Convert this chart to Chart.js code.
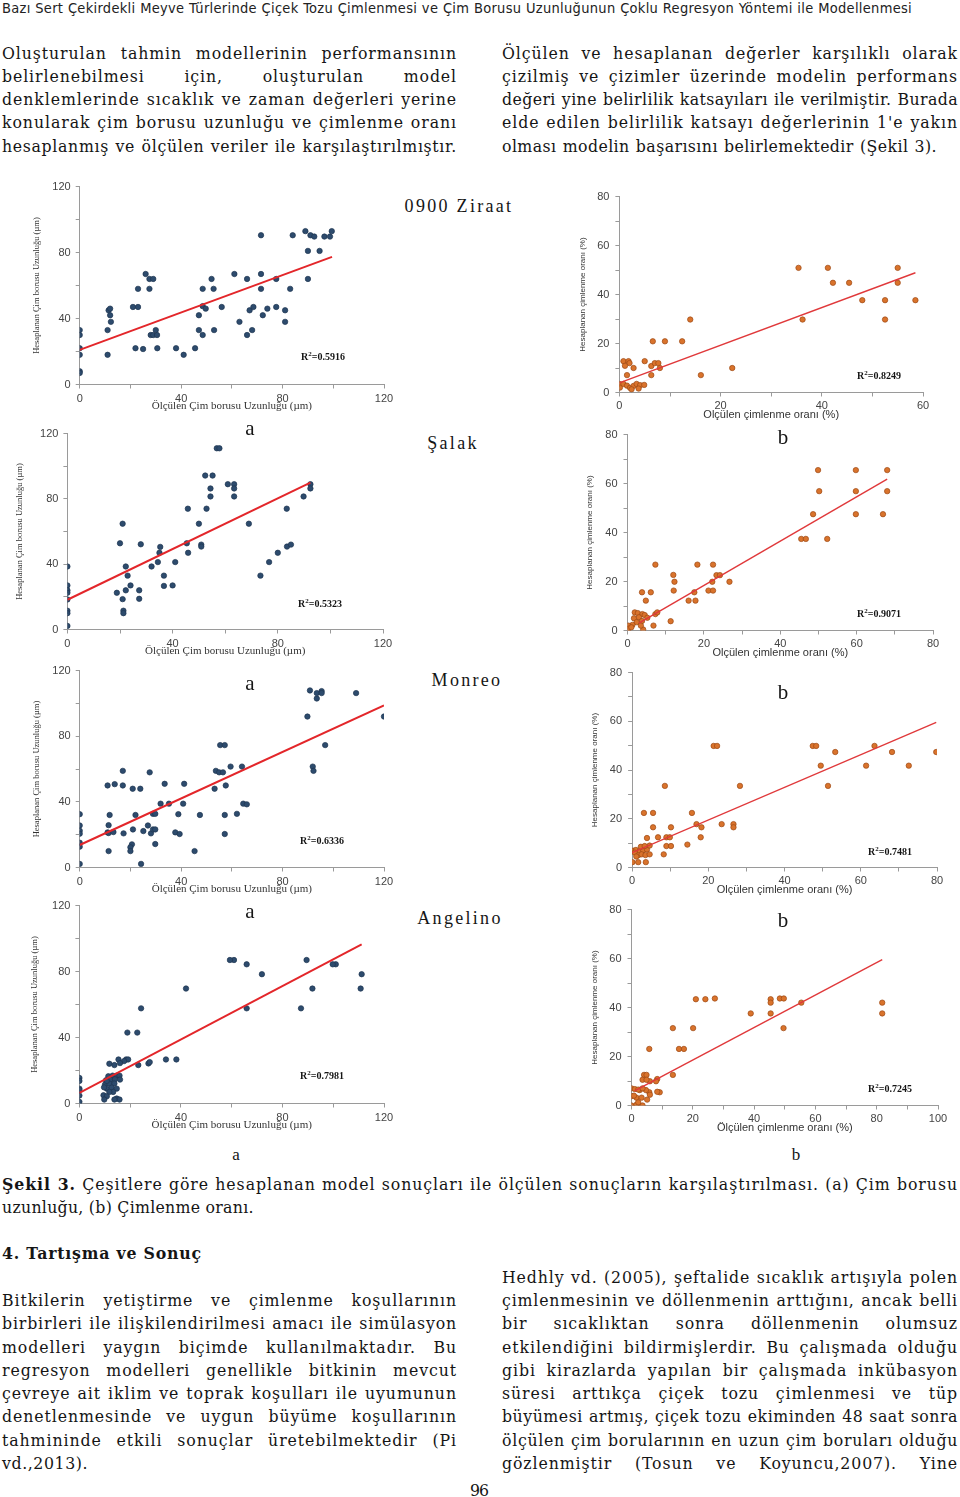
<!DOCTYPE html>
<html lang="tr">
<head>
<meta charset="utf-8">
<title>Şekil 3 - Ölçülen ve hesaplanan değerler</title>
<script src="https://cdn.jsdelivr.net/npm/chart.js@4.4.1/dist/chart.umd.min.js"></script>
<style>
  html, body { margin: 0; padding: 0; background: #fff; }
  #page { position: relative; width: 960px; height: 1497px; overflow: hidden;
          font-family: 'Liberation Serif', serif; color: #151515; }
  #page canvas { position: absolute; }
  .ln { position: absolute; white-space: nowrap; font-family: 'DejaVu Serif Condensed', 'DejaVu Serif', serif;
        font-stretch: condensed; font-size: 17.5px; line-height: 23px; height: 23px;
        letter-spacing: 1px; overflow: visible; }
  .ln.just { text-align: justify; text-align-last: justify; }
  .hdr { font-family: 'DejaVu Sans Condensed', 'DejaVu Sans', sans-serif; font-size: 14.5px; letter-spacing: 0.6px; color: #222; }
  .sp { position: absolute; font-family: 'Liberation Serif', serif; font-size: 18px; letter-spacing: 2.3px;
        transform: translate(-50%, -50%); white-space: nowrap; z-index: 2; }
  .ab { position: absolute; font-family: 'Liberation Serif', serif; font-size: 21px;
        transform: translate(-50%, -50%); z-index: 2; }
  .ab.small { font-size: 17px; }
  .r2 { position: absolute; font: bold 10px 'Liberation Serif', serif; transform: translateY(-50%);
        white-space: nowrap; z-index: 2; }
  .r2 sup { font-size: 7px; vertical-align: 4px; line-height: 0; }
</style>
</head>
<body>
<div id="page"></div>
<script>
// ========== DATA ==========
// [ölçülen, hesaplanan] pairs for every panel

// 0900 Ziraat - çim borusu uzunluğu (µm)
const ziraatCimBorusu = [
  [0,33],[0,30],[0,22],[0,18],[0,8],[0,7],[11,18],[11,33],[11.4,45],[12,46],[12,42],[12.3,38],
  [21,47],[23,47],[23,58],[22,22],[25,21.5],[26,67],[27.5,64],[29,64],[27.5,58],[28,30],[29,30],
  [30,33],[30.5,30],[30.6,22],[38,22],[41,18],[45.5,22],[47,33],[47,42],[48.5,58],[48.5,47.5],
  [49.7,46],[48.5,30],[52,64],[52.8,58],[53,33],[56,47],[61,67],[63,38],[66,64],[66,30],[67,45],
  [68,33],[68.5,47],[71.5,90.5],[71.5,67],[71.5,58],[72.2,42],[74,46],[77.5,64],[77.5,47],[81,45],
  [81,38],[83,58],[84,90.5],[89,93],[90,81],[90,64],[91,90.5],[92.5,89.7],[94.6,81],[96.5,89.7],
  [98.7,89.7],[99.4,93]
];
const ziraatCimBorusuFitX = [0, 99.5];
const ziraatCimBorusuFitY = [21, 77.4];

// 0900 Ziraat - çimlenme oranı (%)
const ziraatCimlenme = [
  [35.4,50.9],[41.2,50.9],[55,50.9],[42.2,44.8],[45.4,44.8],[55,44.8],[48,37.7],[52.5,37.7],
  [58.5,37.7],[52.5,29.8],[36.2,29.8],[14,29.8],[6.6,20.9],[9,20.9],[12.4,20.9],[0.8,12.8],
  [1.8,12.8],[2,12],[1.1,10.9],[2.8,10],[5,12.8],[6.3,10.8],[7,12],[7.7,12],[8,10],[22.3,10],
  [16.1,7.1],[6.3,7.1],[1.5,7.1],[0,3.5],[0.1,2],[0.8,3.5],[1.5,2.8],[2.1,1.9],[2.8,2.7],
  [3.4,3.5],[4.1,3],[3.8,1.6],[4.9,3.1],[2.4,1.3]
];
const ziraatCimlenmeFitX = [0, 58.5];
const ziraatCimlenmeFitY = [3.9, 48.9];

// Şalak - çim borusu uzunluğu
const salakCimBorusu = [
  [0,38.6],[0,27],[0,24],[0,22.5],[0,18.4],[0,11.5],[0,10],[0,2.2],[18.8,22.5],[21,64.8],
  [20,52.8],[21,18.6],[21.3,11.5],[21.3,10],[22.2,38.6],[22.2,24],[22.9,33],[24,27],[27.9,52.2],
  [27.3,24],[27.3,18.8],[32,38.6],[34.4,41.3],[35.3,50.6],[35,47],[36.7,33],[36.7,26.7],[40,27],
  [41,41.3],[45.8,74],[45.4,52.8],[45.9,47],[50,64.8],[50.9,52],[50.9,50.8],[52.4,94.3],[52.9,74],
  [54.4,86.4],[54.4,81.5],[55.2,94.3],[56.8,111],[57.8,111],[61,89],[63.4,89],[63.4,86.4],
  [63.4,81.5],[69,64.8],[73.4,33],[76.7,41.3],[80,47],[83.4,74],[83.5,50.8],[85,52],[89.8,81.5],
  [92.4,89],[92.4,86.4]
];
const salakCimBorusuFitX = [0, 92.4];
const salakCimBorusuFitY = [18.2, 90];

// Şalak - çimlenme oranı
const salakCimlenme = [
  [49.9,65.5],[59.8,65.5],[68,65.5],[50.2,56.9],[59.8,56.9],[68,56.9],[48.6,47.5],[59.8,47.5],
  [66.9,47.5],[45.5,37.4],[46.7,37.4],[52.3,37.4],[7.3,26.9],[18.3,26.9],[22.4,26.9],[12,22.7],
  [23.3,22.6],[24.2,22.6],[12.3,19.9],[22.2,19.9],[26.7,19.9],[12.1,16.3],[21.2,16.3],[22.4,16.3],
  [17.5,15.6],[3.8,15.6],[6.1,15.6],[16,12.2],[17.8,12.2],[4.8,12.2],[11.3,3.8],[6.8,2],[7.3,6.7],
  [7.8,7.4],[1.9,7.4],[2.7,7.1],[3.9,6.7],[4.5,6.3],[1.7,5],[3,5.4],[5.2,5.2],[3.8,3.9],[2.4,3.4],
  [1.3,2.3],[0.2,2],[0.2,0.7],[4.1,0.4],[1,1.3],[3.5,2]
];
const salakCimlenmeFitX = [3, 68];
const salakCimlenmeFitY = [3, 61.8];

// Monreo - çim borusu uzunluğu
const monreoCimBorusu = [
  [0,32.5],[0,25.6],[0,22.4],[0,20.6],[0,15.1],[0,12.7],[0,2.2],[11,50],[11,21.4],[11.4,21],
  [11.4,25.8],[11.8,32],[11.4,10],[13.8,50.8],[13.3,21.6],[17,58.9],[17,50],[17.3,20.8],[20.9,48],
  [21,23.2],[20.6,14.1],[20,12.3],[20,10],[22,32],[23.9,48],[25.1,22.2],[24.2,2.2],[27.6,58],
  [26.9,25.6],[28.1,20.8],[28.9,32.7],[29.8,32.7],[28.9,23.2],[29.8,23.2],[29.8,14.3],[31.9,38.9],
  [33.5,51],[35.2,38.9],[37.7,21.4],[38.9,32.5],[40.8,38.9],[39.4,20.4],[41.2,51],[45.3,10],
  [47.4,32],[53.2,48],[53.7,58.9],[55,58],[56.5,58],[55.4,74.6],[57.6,50],[57.2,74.6],[57.2,32],
  [57.2,20.4],[59.5,61.5],[62,32.7],[64,61.5],[64.5,38.9],[65.9,38.5],[89.8,92],[90.8,107.9],
  [91.9,61.5],[92.2,58.9],[93.5,103],[93.5,106.3],[95.4,107.5],[95.4,106.3],[96.8,74.6],
  [109,106.3],[120,92]
];
const monreoCimBorusuFitX = [0, 120];
const monreoCimBorusuFitY = [13.7, 98.8];

// Monreo - çimlenme oranı
const monreoCimlenme = [
  [21.4,49.9],[22.3,49.9],[47.4,49.9],[48.3,49.9],[63.6,49.9],[53.3,47.4],[68.2,47.4],[79.8,47.4],
  [49.5,41.8],[61.4,41.8],[72.6,41.8],[51.4,33.5],[28.3,33.5],[8.6,33.5],[3.1,22.4],[5.5,22.4],
  [15.7,22.4],[16.9,17.8],[23.5,17.8],[26.6,17.8],[26.6,16.5],[18.2,16.5],[5.5,16.5],[10.2,16.5],
  [18,12.4],[3.9,12.1],[6.8,12.4],[9,12.4],[9.9,12.4],[9,8.8],[10.2,8.8],[14.5,9.4],[8.3,5.4],
  [0.3,6.9],[1,7.2],[2,6.7],[2.9,7.1],[3.9,7.4],[4.6,9],[2.3,8.5],[3.3,8.8],[0.7,6.1],[1.6,5],
  [2.5,5.4],[3.5,5.1],[4.6,5.4],[0.1,2.2],[1.6,2.2],[3.6,2.2],[1.1,4.5]
];
const monreoCimlenmeFitX = [0, 79.8];
const monreoCimlenmeFitY = [6.1, 59.6];

// Angelino - çim borusu uzunluğu
const angelinoCimBorusu = [
  [0,15.5],[0,13.7],[0,9],[0,8.2],[0,4.8],[0,1],[60.9,87],[59.3,87],[65.9,84.4],[71.9,78.4],
  [89.5,87],[101,84.4],[99.8,84.4],[111.2,78.4],[42,69.7],[91.8,69.7],[110.8,69.7],[24.3,57.7],
  [65.9,57.7],[87.3,57.7],[18.9,43],[22.8,43],[18.4,26.7],[19.2,26.7],[15.4,26.7],[17.6,25.7],
  [11.8,24.1],[13.8,23.3],[23.2,23.3],[27.2,24.3],[27.7,25.1],[34.1,26.7],[38.2,26.7],[16,24.5],
  [11.4,16.5],[13.1,16.9],[14.7,16.9],[15.8,16.9],[10.5,14.1],[12.3,14.5],[14,14.7],[16,14.5],
  [10.1,11.5],[11.8,12.1],[13.8,12.1],[10.8,9],[12.7,9.6],[14.7,9],[9.7,9.8],[13.3,7],[11.8,7],
  [9.5,5],[10.8,4.4],[14.7,3],[15.8,2.4],[13.8,2.4],[9.8,2.4],[10.8,13.7]
];
const angelinoCimBorusuFitX = [0, 111.2];
const angelinoCimBorusuFitY = [6.4, 96.5];

// Angelino - çimlenme oranı
const angelinoCimlenme = [
  [21,43.4],[24.1,43.4],[27.2,43.7],[45.4,43.4],[45.4,42],[48.4,43.7],[49.7,43.7],[55.4,42],
  [81.8,42],[81.8,37.6],[38.9,37.6],[45.4,37.6],[49.6,31.6],[13.5,31.6],[20.1,31.6],[5.8,23.1],
  [15.5,23.1],[17.1,23.1],[13.5,12.5],[4.1,12.5],[4.9,12.5],[8.4,10.8],[8,9.9],[6,9.9],[3.6,10.5],
  [4.9,10.5],[9.2,5.4],[8.4,5.6],[5.8,5.4],[4.7,6.3],[2.7,6.3],[0,7],[1.1,6.7],[2.2,6.5],[3.6,7],
  [0,3.8],[1.6,3.2],[3.3,3.2],[5.1,2.4],[0,0],[1.6,0.3],[3.6,0],[2.2,1.3],[0.8,4],[6,4.4]
];
const angelinoCimlenmeFitX = [1, 81.8];
const angelinoCimlenmeFitY = [6, 59.6];

// tick labels
const lengthTicks = [0, 40, 80, 120];
const rateTicks60 = [0, 20, 40, 60];
const rateTicks80 = [0, 20, 40, 60, 80];
const rateTicks100 = [0, 20, 40, 60, 80, 100];
const rSquared = ['0.5916', '0.8249', '0.5323', '0.9071', '0.6336', '0.7481', '0.7981', '0.7245'];

// ========== PAGE TEXT ==========
const page = document.getElementById('page');

function addLine(text, left, right, cy, justify, cls) {
  const d = document.createElement('div');
  d.className = 'ln' + (cls ? ' ' + cls : '');
  d.style.left = left + 'px';
  d.style.width = (right - left) + 'px';
  d.style.top = (cy - 11.5) + 'px';
  d.innerHTML = text;
  page.appendChild(d);
  // tighten letter spacing if the line would not fit, then justify it
  const w = right - left - 2;
  if (d.scrollWidth > w) {
    const n = d.textContent.length;
    const ls = parseFloat(getComputedStyle(d).letterSpacing) || 0;
    d.style.letterSpacing = (ls - (d.scrollWidth - w + 2) / n) + 'px';
  }
  if (justify) {
    d.style.whiteSpace = 'normal';
    d.classList.add('just');
  }
}

addLine('Bazı Sert Çekirdekli Meyve Türlerinde Çiçek Tozu Çimlenmesi ve Çim Borusu Uzunluğunun Çoklu Regresyon Yöntemi ile Modellenmesi', 2, 912, 8, true, 'hdr');

const topLeft = [
  'Oluşturulan tahmin modellerinin performansının',
  'belirlenebilmesi için, oluşturulan model',
  'denklemlerinde sıcaklık ve zaman değerleri yerine',
  'konularak çim borusu uzunluğu ve çimlenme oranı',
  'hesaplanmış ve ölçülen veriler ile karşılaştırılmıştır.'
];
const topRight = [
  'Ölçülen ve hesaplanan değerler karşılıklı olarak',
  'çizilmiş ve çizimler üzerinde modelin performans',
  'değeri yine belirlilik katsayıları ile verilmiştir. Burada',
  'elde edilen belirlilik katsayı değerlerinin 1\'e yakın',
  'olması modelin başarısını belirlemektedir (Şekil 3).'
];
const topY = [53, 76, 99, 122, 146];
topLeft.forEach((t, i) => addLine(t, 2, 457, topY[i], true));
topRight.forEach((t, i) => addLine(t, 502, i === 4 ? 937 : 958, topY[i], true));

addLine('<b>Şekil 3.</b> Çeşitlere göre hesaplanan model sonuçları ile ölçülen sonuçların karşılaştırılması. (a) Çim borusu', 2, 958, 1184, true);
addLine('uzunluğu, (b) Çimlenme oranı.', 2, 258, 1207, false);
addLine('<b>4. Tartışma ve Sonuç</b>', 2, 300, 1253, false);

const bottomLeft = [
  'Bitkilerin yetiştirme ve çimlenme koşullarının',
  'birbirleri ile ilişkilendirilmesi amacı ile simülasyon',
  'modelleri yaygın biçimde kullanılmaktadır. Bu',
  'regresyon modelleri genellikle bitkinin mevcut',
  'çevreye ait iklim ve toprak koşulları ile uyumunun',
  'denetlenmesinde ve uygun büyüme koşullarının',
  'tahmininde etkili sonuçlar üretebilmektedir (Pi',
  'vd.,2013).'
];
const bottomLeftY = [1300, 1323, 1347, 1370, 1393, 1416, 1440, 1463];
bottomLeft.forEach((t, i) => addLine(t, 2, 457, bottomLeftY[i], i < 7));

const bottomRight = [
  'Hedhly vd. (2005), şeftalide sıcaklık artışıyla polen',
  'çimlenmesinin ve döllenmenin arttığını, ancak belli',
  'bir sıcaklıktan sonra döllenmenin olumsuz',
  'etkilendiğini bildirmişlerdir. Bu çalışmada olduğu',
  'gibi kirazlarda yapılan bir çalışmada inkübasyon',
  'süresi arttıkça çiçek tozu çimlenmesi ve tüp',
  'büyümesi artmış, çiçek tozu ekiminden 48 saat sonra',
  'ölçülen çim borularının en uzun çim boruları olduğu',
  'gözlenmiştir (Tosun ve Koyuncu,2007). Yine'
];
const bottomRightY = [1277, 1300, 1323, 1347, 1370, 1393, 1416, 1440, 1463];
bottomRight.forEach((t, i) => addLine(t, 502, 958, bottomRightY[i], true));

addLine('96', 470, 494, 1490, false);

function addLabel(cls, text, x, y) {
  const d = document.createElement('div');
  d.className = cls;
  d.innerHTML = text;
  d.style.left = x + 'px';
  d.style.top = y + 'px';
  page.appendChild(d);
}

addLabel('sp', '0900 Ziraat', 459, 206);
addLabel('sp', 'Şalak', 453, 443);
addLabel('sp', 'Monreo', 467, 680);
addLabel('sp', 'Angelino', 460, 918);
[428, 683, 911].forEach(y => addLabel('ab', 'a', 250, y));
[437, 692, 920].forEach(y => addLabel('ab', 'b', 783, y));
addLabel('ab small', 'a', 236, 1155);
addLabel('ab small', 'b', 796, 1155);

// ========== CHARTS ==========
const BLUE = '#2d4b6d';
const ORANGE = '#d9732c';
const ORANGE_EDGE = '#9c4712';
const AXIS = '#9a9a9a';

function axisOpts(max, step, labels, title, titleFont, tickFont, size, isY, tickPad) {
  return {
    type: 'linear',
    min: 0,
    max: max,
    border: { display: true, color: AXIS, width: 1 },
    grid: { display: true, drawOnChartArea: false, drawTicks: true, tickLength: 4, color: AXIS },
    ticks: {
      stepSize: step,
      autoSkip: false,
      maxRotation: 0,
      padding: tickPad,
      color: '#444',
      font: tickFont,
      callback: v => labels.includes(v) ? String(v) : ''
    },
    title: { display: true, text: title, color: '#333', font: titleFont, padding: 0 },
    afterFit: s => { if (isY) s.width = size; else s.height = size; }
  };
}

function panel(p) {
  const padTop = 10, padRight = 16;
  const left = Math.round(p.x0 - p.yW);
  const top = Math.round(p.y0 - padTop);
  const width = Math.round(p.yW + (p.x1 - p.x0) + padRight);
  const height = Math.round(padTop + (p.y1 - p.y0) + p.xH);

  const canvas = document.createElement('canvas');
  canvas.width = width;
  canvas.height = height;
  canvas.style.left = left + 'px';
  canvas.style.top = top + 'px';
  canvas.style.width = width + 'px';
  canvas.style.height = height + 'px';
  page.appendChild(canvas);

  const isLen = p.kind === 'len';
  const tickFont = { family: 'Liberation Sans', size: 11 };
  const xTitleFont = isLen ? { family: 'Liberation Serif', size: 11 } : { family: 'Liberation Sans', size: 11 };
  const yTitleFont = isLen ? { family: 'Liberation Serif', size: 8.5 } : { family: 'Liberation Sans', size: 8 };

  new Chart(canvas, {
    type: 'scatter',
    data: {
      datasets: [
        {
          type: 'line',
          data: p.fitX.map((x, i) => ({ x: x, y: p.fitY[i] })),
          borderColor: isLen ? '#e3262a' : '#e0393b',
          borderWidth: isLen ? 2 : 1.4,
          pointRadius: 0,
          fill: false,
          order: 0
        },
        {
          data: p.points.map(d => ({ x: d[0], y: d[1] })),
          backgroundColor: isLen ? BLUE : ORANGE,
          borderColor: isLen ? '#1e3550' : ORANGE_EDGE,
          borderWidth: 0.7,
          pointRadius: 2.7,
          order: 1
        }
      ]
    },
    options: {
      responsive: false,
      devicePixelRatio: 1,
      animation: false,
      layout: { padding: { top: padTop, right: padRight, left: 0, bottom: 0 } },
      plugins: { legend: { display: false }, tooltip: { enabled: false } },
      scales: {
        x: axisOpts(p.xMax, p.xStep, p.xLabels, p.xTitle, xTitleFont, tickFont, p.xH, false, isLen ? 4 : 3),
        y: axisOpts(p.yMax, p.yStep, p.yLabels, p.yTitle, yTitleFont, tickFont, p.yW, true, isLen ? 5 : 6)
      }
    }
  });

  addLabel('r2', 'R<sup>2</sup>=' + p.r2, p.r2x, p.r2y);
}

const lenX = 'Ölçülen Çim borusu Uzunluğu (µm)';
const lenY = 'Hesaplanan Çim borusu Uzunluğu (µm)';
const rateX1 = 'Olçülen çimlenme oranı (%)';
const rateX2 = 'Ölçülen çimlenme oranı (%)';
const rateY = 'Hesaplanan çimlenme oranı (%)';

// row 1 - 0900 Ziraat
panel({ kind: 'len', points: ziraatCimBorusu, fitX: ziraatCimBorusuFitX, fitY: ziraatCimBorusuFitY,
  x0: 79.3, x1: 384, y0: 185, y1: 384, yW: 47.7, xH: 28.5,
  xMax: 120, xStep: 20, xLabels: lengthTicks, yMax: 120, yStep: 20, yLabels: lengthTicks,
  xTitle: lenX, yTitle: lenY, r2: rSquared[0], r2x: 301, r2y: 356 });
panel({ kind: 'rate', points: ziraatCimlenme, fitX: ziraatCimlenmeFitX, fitY: ziraatCimlenmeFitY,
  x0: 619.3, x1: 922.7, y0: 193.7, y1: 391.7, yW: 41.4, xH: 29.5,
  xMax: 60, xStep: 10, xLabels: rateTicks60, yMax: 80, yStep: 10, yLabels: rateTicks80,
  xTitle: rateX1, yTitle: rateY, r2: rSquared[1], r2x: 857, r2y: 375 });

// row 2 - Şalak
panel({ kind: 'len', points: salakCimBorusu, fitX: salakCimBorusuFitX, fitY: salakCimBorusuFitY,
  x0: 67.3, x1: 382.7, y0: 431.7, y1: 629.3, yW: 52.4, xH: 28.5,
  xMax: 120, xStep: 20, xLabels: lengthTicks, yMax: 120, yStep: 20, yLabels: lengthTicks,
  xTitle: lenX, yTitle: lenY, r2: rSquared[2], r2x: 298, r2y: 603 });
panel({ kind: 'rate', points: salakCimlenme, fitX: salakCimlenmeFitX, fitY: salakCimlenmeFitY,
  x0: 627.7, x1: 933.3, y0: 431.7, y1: 630, yW: 42.5, xH: 29.5,
  xMax: 80, xStep: 10, xLabels: rateTicks80, yMax: 80, yStep: 10, yLabels: rateTicks80,
  xTitle: rateX1, yTitle: rateY, r2: rSquared[3], r2x: 857, r2y: 613 });

// row 3 - Monreo
panel({ kind: 'len', points: monreoCimBorusu, fitX: monreoCimBorusuFitX, fitY: monreoCimBorusuFitY,
  x0: 79.3, x1: 384, y0: 669.3, y1: 867.7, yW: 47.7, xH: 28.5,
  xMax: 120, xStep: 20, xLabels: lengthTicks, yMax: 120, yStep: 20, yLabels: lengthTicks,
  xTitle: lenX, yTitle: lenY, r2: rSquared[4], r2x: 300, r2y: 840 });
panel({ kind: 'rate', points: monreoCimlenme, fitX: monreoCimlenmeFitX, fitY: monreoCimlenmeFitY,
  x0: 632.3, x1: 936.7, y0: 670, y1: 867.7, yW: 42.1, xH: 29.5,
  xMax: 80, xStep: 10, xLabels: rateTicks80, yMax: 80, yStep: 10, yLabels: rateTicks80,
  xTitle: rateX1, yTitle: rateY, r2: rSquared[5], r2x: 868, r2y: 851 });

// row 4 - Angelino
panel({ kind: 'len', points: angelinoCimBorusu, fitX: angelinoCimBorusuFitX, fitY: angelinoCimBorusuFitY,
  x0: 79.3, x1: 384, y0: 904.3, y1: 1103.3, yW: 49.4, xH: 28.5,
  xMax: 120, xStep: 20, xLabels: lengthTicks, yMax: 120, yStep: 20, yLabels: lengthTicks,
  xTitle: lenX, yTitle: lenY, r2: rSquared[6], r2x: 300, r2y: 1075 });
panel({ kind: 'rate', points: angelinoCimlenme, fitX: angelinoCimlenmeFitX, fitY: angelinoCimlenmeFitY,
  x0: 631.7, x1: 938.3, y0: 906.7, y1: 1105, yW: 41.5, xH: 29.5,
  xMax: 100, xStep: 10, xLabels: rateTicks100, yMax: 80, yStep: 10, yLabels: rateTicks80,
  xTitle: rateX2, yTitle: rateY, r2: rSquared[7], r2x: 868, r2y: 1088 });
</script>
</body>
</html>
